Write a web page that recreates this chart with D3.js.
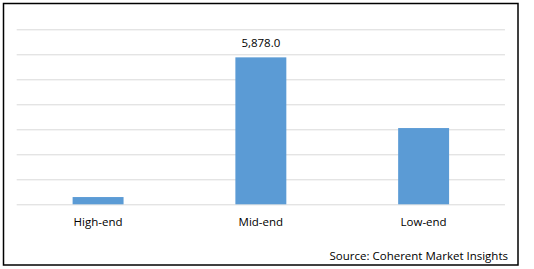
<!DOCTYPE html>
<html>
<head>
<meta charset="utf-8">
<script src="https://cdn.jsdelivr.net/npm/d3@7"></script>
<style>
  body { margin: 0; background: #fff; }
  text { font-family: "Open Sans", sans-serif; fill: #000; }
</style>
</head>
<body>
<div id="chart"></div>
<script>
// data
const categories = ["High-end", "Mid-end", "Low-end"];
const values = [290, 5878, 3050];
const yTicks = [0, 1000, 2000, 3000, 4000, 5000, 6000, 7000];
const labelled = ["Mid-end"];
const source = "Source: Coherent Market Insights";

const W = 534, H = 269;
const margin = {top: 29.3, right: 29, bottom: 64.7, left: 16.7};
const width = 505 - margin.left;
const height = 204.3 - margin.top;

const svg = d3.select("#chart")
  .append("svg")
    .attr("width", W)
    .attr("height", H);

// outer frame
svg.append("rect")
  .attr("x", 3.5).attr("y", 3.5)
  .attr("width", 514.5).attr("height", 261.5)
  .attr("fill", "none")
  .attr("stroke", "#000")
  .attr("stroke-width", 1.5);

const g = svg.append("g")
  .attr("transform", `translate(${margin.left}, ${margin.top})`);

const x = d3.scaleBand()
  .domain(categories)
  .range([0, width])
  .paddingInner(0.687)
  .paddingOuter(0.3435);

const y = d3.scaleLinear()
  .domain([0, 7000])
  .range([height, 0]);

// gridlines
const grid = g.append("g")
  .call(d3.axisLeft(y).tickValues(yTicks).tickSize(-width).tickFormat(""));
grid.select(".domain").remove();
grid.selectAll("line")
  .attr("stroke", "#d9d9d9")
  .attr("stroke-width", 1);

// bars
g.selectAll("rect.bar")
  .data(values)
  .enter()
  .append("rect")
    .attr("class", "bar")
    .attr("x", (d, i) => x(categories[i]))
    .attr("y", d => y(d))
    .attr("width", x.bandwidth())
    .attr("height", d => height - y(d))
    .attr("fill", "#5b9bd5");

// data label
g.selectAll("text.val")
  .data(values.filter((d, i) => labelled.includes(categories[i])))
  .enter()
  .append("text")
    .attr("class", "val")
    .attr("x", (d) => x(categories[values.indexOf(d)]) + x.bandwidth() / 2)
    .attr("y", d => y(d) - 10)
    .attr("text-anchor", "middle")
    .style("font-size", "11.5px")
    .text(d => d3.format(",.1f")(d));

// category axis
const xAxis = g.append("g")
  .attr("transform", `translate(0, ${height})`)
  .call(d3.axisBottom(x).tickSize(0).tickPadding(13.5));
xAxis.select(".domain").remove();
xAxis.selectAll("text")
  .style("font-size", "11.5px")
  .style("font-family", "'Open Sans', sans-serif")
  .attr("fill", "#000");

// source note
svg.append("text")
  .attr("x", 508)
  .attr("y", 260)
  .attr("text-anchor", "end")
  .style("font-size", "11.5px")
  .text(source);
</script>
</body>
</html>
